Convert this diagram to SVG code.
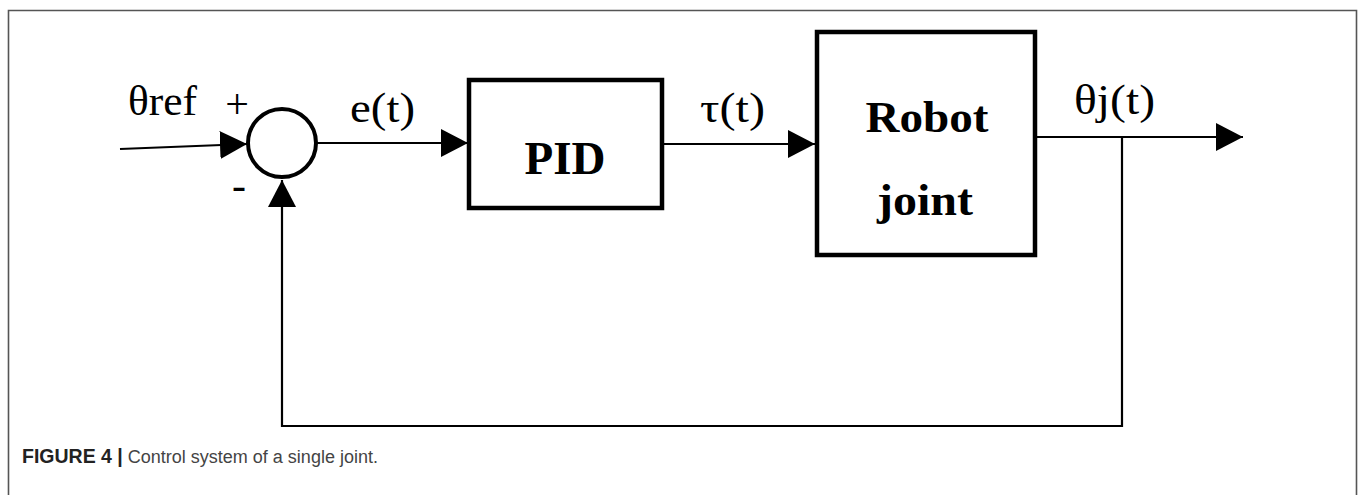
<svg xmlns="http://www.w3.org/2000/svg" width="1358" height="495" viewBox="0 0 1358 495">
<style>
.box{fill:#fff;stroke:#000;stroke-width:4.5}
.wire{fill:none;stroke:#000;stroke-width:2.2}
.lbl{font-family:'Liberation Serif','Times New Roman',Times,serif;font-size:42px;fill:#000}
.blbl{font-family:'Liberation Serif','Times New Roman',Times,serif;font-weight:bold;fill:#000}
.cap{font-family:'Liberation Sans',Arial,Helvetica,sans-serif}
</style>
<defs>
<marker id="arr" markerUnits="userSpaceOnUse" markerWidth="28" markerHeight="30" viewBox="0 0 28 30" refX="27" refY="15" orient="auto">
<path d="M0,1 L27,15 L0,29 Z" fill="#000"/>
</marker>
</defs>
<rect width="1358" height="495" fill="#fff"/>
<path d="M8.5,500 V10.5 H1356.5 V500" fill="none" stroke="#555" stroke-width="1.6"/>
<g id="connectors">
<path class="wire" d="M120,149 L247,144" marker-end="url(#arr)"/>
<path class="wire" d="M317,143 H468" marker-end="url(#arr)"/>
<path class="wire" d="M662,144 H815" marker-end="url(#arr)"/>
<path class="wire" d="M1035,137 H1243" marker-end="url(#arr)"/>
<path class="wire" d="M1122,137 V426 H282 V180" marker-end="url(#arr)"/>
</g>
<g id="sum">
<circle cx="282" cy="143" r="34" fill="#fff" stroke="#000" stroke-width="4"/>
</g>
<g id="pid">
<rect class="box" x="469" y="80" width="193" height="128"/>
<text class="blbl" x="565" y="174" font-size="46" text-anchor="middle" textLength="81" lengthAdjust="spacingAndGlyphs">PID</text>
</g>
<g id="robot">
<rect class="box" x="817" y="32" width="218" height="223"/>
<text class="blbl" x="927" y="132" font-size="44" text-anchor="middle" textLength="123" lengthAdjust="spacingAndGlyphs">Robot</text>
<text class="blbl" x="925" y="215" font-size="44" text-anchor="middle" textLength="96" lengthAdjust="spacingAndGlyphs">joint</text>
</g>
<g id="labels">
<text class="lbl" x="128" y="115" textLength="69" lengthAdjust="spacingAndGlyphs">θref</text>
<text class="lbl" x="237" y="118" font-size="46" text-anchor="middle">+</text>
<text class="lbl" x="239" y="199" text-anchor="middle">-</text>
<text class="lbl" x="350" y="122" textLength="65" lengthAdjust="spacingAndGlyphs">e(t)</text>
<text class="lbl" x="700" y="122" textLength="65" lengthAdjust="spacingAndGlyphs">τ(t)</text>
<text class="lbl" x="1074" y="114" textLength="81" lengthAdjust="spacingAndGlyphs">θj(t)</text>
</g>
<text class="cap" x="22" y="463"><tspan font-weight="bold" font-size="19.5" fill="#222">FIGURE 4 |</tspan><tspan font-size="18" fill="#444"> Control system of a single joint.</tspan></text>
</svg>
